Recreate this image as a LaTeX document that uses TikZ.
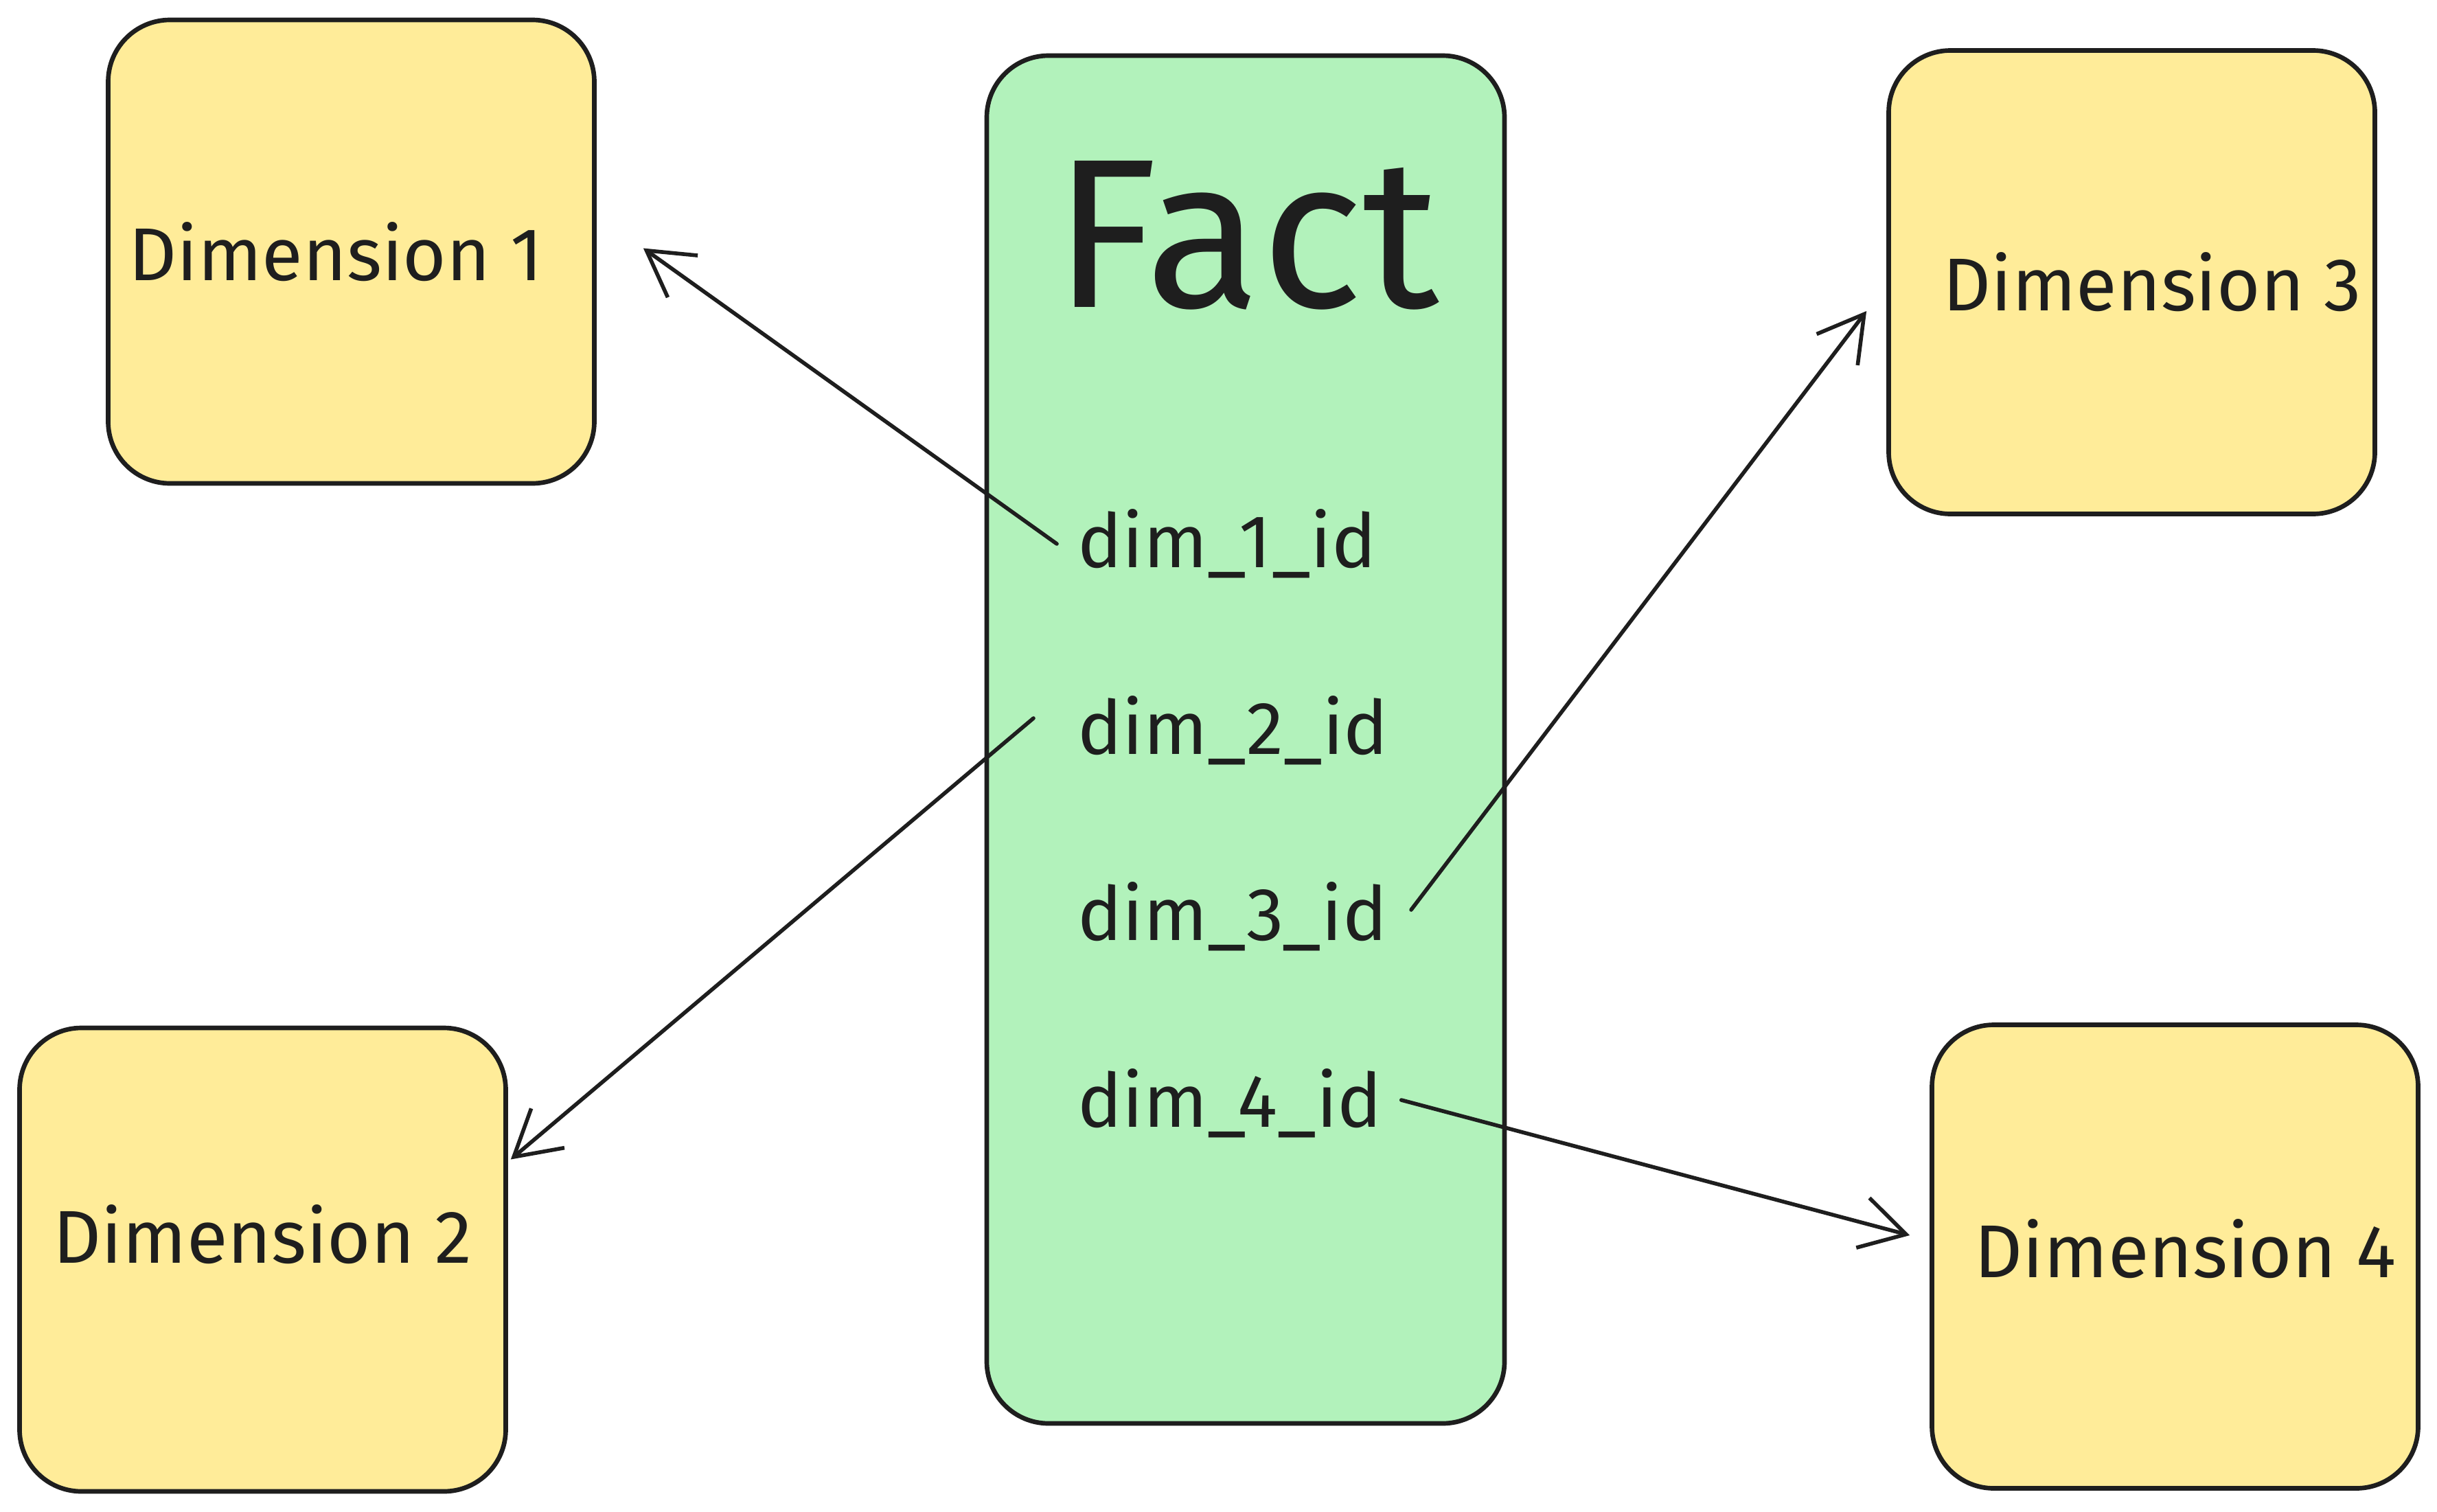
\documentclass[tikz,border=0pt]{standalone}
\usepackage{fontspec}
\setmainfont{Fira Sans}
\usetikzlibrary{arrows.meta}
\definecolor{ink}{HTML}{1E1E1E}
\definecolor{factgreen}{HTML}{B2F2BB}
\definecolor{dimyellow}{HTML}{FFEC99}
\begin{document}
\begin{tikzpicture}[
		line cap=round,
		dimbox/.style={draw=ink, fill=dimyellow, line width=1.9pt, rounded corners=0.9cm,
			minimum width=7.08cm, minimum height=6.75cm, inner sep=0pt, text=ink,
			font=\fontsize{31}{36}\selectfont},
		factbox/.style={draw=ink, fill=factgreen, line width=1.9pt, rounded corners=0.9cm,
			minimum width=7.54cm, minimum height=19.92cm, inner sep=0pt},
		field/.style={anchor=west, inner sep=0pt, text=ink, font=\fontsize{31}{36}\selectfont},
		link/.style={draw=ink, line width=1.6pt, -{Straight Barb[length=6.5mm, width=7.5mm]}}
	]
		\useasboundingbox (0, 0) rectangle (35.49, -22.02);
		%fact table
		\node[factbox] (fact) at (18.14, -10.77) {};
		\node[anchor=base, inner sep=0pt, text=ink, font=\fontsize{88}{96}\selectfont]
			(title) at (18.15, -4.47) {Fact};
		\node[field] (f1) at (15.69, -7.92) {dim\_1\_id};
		\node[field] (f2) at (15.69, -10.64) {dim\_2\_id};
		\node[field] (f3) at (15.69, -13.35) {dim\_3\_id};
		\node[field] (f4) at (15.69, -16.07) {dim\_4\_id};
		%dimensions
		\node[dimbox] (d1) at (5.115, -3.665) {\hspace{-4.5mm}Dimension 1};
		\node[dimbox] (d2) at (3.825, -18.345) {\raisebox{7.5mm}{Dimension 2}};
		\node[dimbox] (d3) at (31.045, -4.11) {\hspace{6mm}Dimension 3};
		\node[dimbox] (d4) at (31.675, -18.30) {\hspace{3mm}\raisebox{2.5mm}{Dimension 4}};
		%keys
		\draw[link] ([xshift=-3mm]f1.west) -- ([xshift=6.8mm, yshift=0.5mm]d1.east);
		\draw[link] ([xshift=-6.4mm, yshift=1.8mm]f2.west) -- ([xshift=0.4mm, yshift=14.6mm]d2.east);
		%\draw[link] (f3.east) -- (d3.west);
		\draw[link] ([xshift=3.4mm, yshift=1mm]f3.east) -- ([xshift=-2.9mm, yshift=-4.2mm]d3.west);
		\draw[link] ([xshift=2.7mm, yshift=0.5mm]f4.east) -- ([xshift=-2.9mm, yshift=3.1mm]d4.west);
		\end{tikzpicture}
\end{document}
